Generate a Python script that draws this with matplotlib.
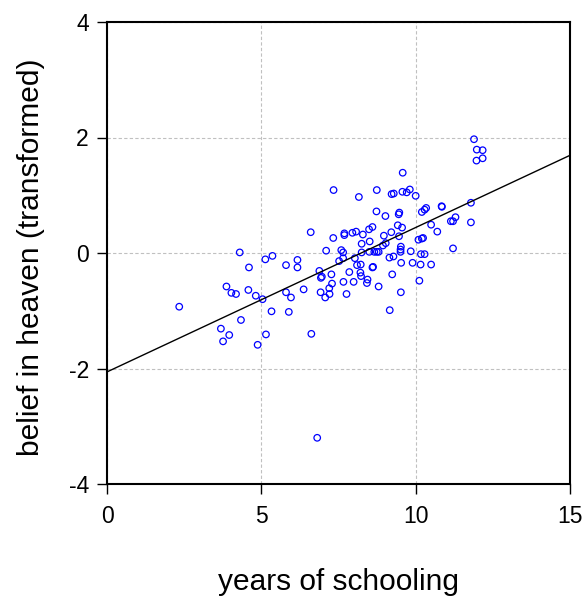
import matplotlib
matplotlib.use("Agg")
import matplotlib.pyplot as plt
import numpy as np

plt.rcParams['font.family'] = ['Liberation Sans', 'DejaVu Sans']
plt.rcParams['axes.unicode_minus'] = False

# years of schooling (x) and belief in heaven, transformed (y)
schooling = [
    2.34, 3.69, 3.76, 3.96, 3.87, 4.03, 4.18, 4.30, 4.60, 4.58,
    4.34, 4.82, 4.88, 5.04, 5.15, 5.13, 5.36, 5.33, 5.80, 5.80,
    5.96, 5.89, 6.17, 6.17, 6.37, 6.60, 6.62, 6.81, 6.88, 6.93,
    6.96, 6.92, 7.07, 7.21, 7.20, 7.29, 7.27, 7.10, 7.33, 7.34,
    7.52, 7.59, 7.65, 7.65, 7.69, 7.69, 7.66, 7.76, 7.85, 7.95,
    8.07, 7.99, 8.03, 8.10, 8.16, 8.22, 8.21, 8.23, 8.25, 8.29,
    8.25, 8.44, 8.42, 8.49, 8.51, 8.50, 8.60, 8.60, 8.62, 8.66,
    8.74, 8.80, 8.74, 8.73, 8.80, 8.97, 8.94, 9.03, 9.02, 9.16,
    9.15, 9.28, 9.21, 9.24, 9.22, 9.29, 9.42, 9.45, 9.47, 9.46,
    9.56, 9.52, 9.51, 9.51, 9.53, 9.52, 9.58, 9.57, 9.71, 9.81,
    10.00, 9.84, 9.90, 10.12, 10.09, 10.17, 10.16, 10.20, 10.24, 10.29,
    10.20, 10.29, 10.34, 10.50, 10.50, 10.70, 10.84, 10.85, 11.14, 11.21,
    11.29, 11.21, 11.79, 11.79, 11.89, 11.98, 12.17, 11.97, 12.17,
]
belief = [
    -0.93, -1.31, -1.53, -1.42, -0.58, -0.69, -0.71, 0.01, -0.25, -0.64,
    -1.16, -0.74, -1.59, -0.80, -1.41, -0.11, -0.05, -1.01, -0.21, -0.68,
    -0.77, -1.02, -0.12, -0.25, -0.63, 0.36, -1.40, -3.20, -0.31, -0.43,
    -0.41, -0.68, -0.77, -0.71, -0.61, -0.53, -0.37, 0.04, 0.26, 1.09,
    -0.14, 0.05, 0.01, -0.09, 0.31, 0.34, -0.50, -0.71, -0.33, 0.35,
    0.37, -0.50, -0.09, -0.21, 0.97, -0.20, -0.34, -0.40, 0.16, 0.32,
    0.01, -0.46, -0.52, 0.41, 0.20, 0.02, 0.45, -0.25, -0.24, 0.02,
    0.02, 0.02, 1.09, 0.72, -0.58, 0.30, 0.13, 0.17, 0.64, -0.99,
    -0.08, -0.06, 0.36, -0.37, 1.02, 1.03, 0.48, 0.67, 0.70, 0.29,
    0.44, 0.11, 0.06, 0.02, -0.17, -0.68, 1.39, 1.06, 1.05, 1.10,
    0.99, 0.03, -0.17, -0.48, 0.23, -0.02, -0.20, 0.25, 0.26, -0.02,
    0.71, 0.75, 0.78, 0.49, -0.20, 0.37, 0.81, 0.80, 0.55, 0.55,
    0.62, 0.08, 0.87, 0.53, 1.97, 1.79, 1.78, 1.60, 1.64,
]

x_ticks = [0, 5, 10, 15]
y_ticks = [-4, -2, 0, 2, 4]

x = np.array(schooling)
y = np.array(belief)
slope, intercept = np.polyfit(x, y, 1)

fig = plt.figure(figsize=(5.87, 6.05), dpi=100)
ax = fig.add_axes([107/587, 121/605, 463/587, 462/605])

ax.grid(True, color='#c0c0c0', linestyle=(0, (3, 2)), linewidth=0.8)
ax.set_axisbelow(True)

ax.scatter(x, y, s=22, facecolors='none', edgecolors='#0000ff', linewidths=0.9, zorder=3)
xs = np.array([0, 15])
ax.plot(xs, intercept + slope * xs, color='black', linewidth=1.0, zorder=4)

ax.set_xlim(0, 15)
ax.set_ylim(-4, 4)
ax.set_xticks(x_ticks)
ax.set_yticks(y_ticks)
ax.tick_params(direction='out', length=7, width=1, labelsize=16.5,
               top=False, right=False)
ax.tick_params(axis='x', pad=8)
ax.tick_params(axis='y', pad=6)
for sp in ax.spines.values():
    sp.set_linewidth(1.5)

ax.set_xlabel('years of schooling', fontsize=21.5, va='center')
ax.xaxis.set_label_coords(0.5, -0.212)
ax.set_ylabel('belief in heaven (transformed)', fontsize=21.5, va='center')
ax.yaxis.set_label_coords(-0.164, 0.49)

fig.savefig('out.png', dpi=100)
